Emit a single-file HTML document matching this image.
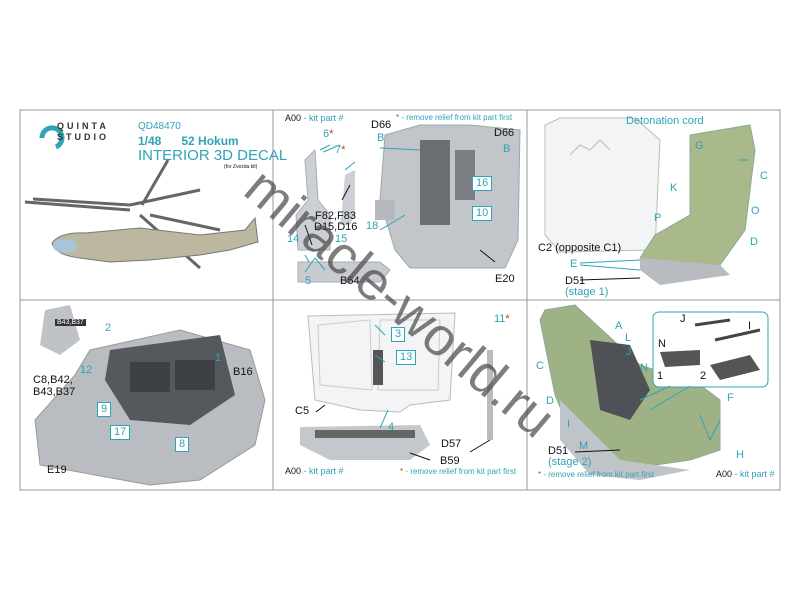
<!DOCTYPE html>
<html><head><meta charset="utf-8"><style>
*{margin:0;padding:0}
body{width:800px;height:600px;background:#fff;position:relative;overflow:hidden;font-family:"Liberation Sans",sans-serif}
.t{position:absolute;font-size:11px;color:#111;white-space:nowrap}
.c{color:#2fa3b8}
.r{color:#c33}
.box{position:absolute;border:1px solid #2fa3b8;color:#2fa3b8;font-size:11px;padding:0 3px;background:#fff;line-height:13px}
</style></head><body>
<svg width="800" height="600" style="position:absolute;left:0;top:0">
<rect x="20" y="110" width="760" height="380" fill="none" stroke="#999" stroke-width="1"/>
<line x1="273" y1="110" x2="273" y2="490" stroke="#999"/>
<line x1="527" y1="110" x2="527" y2="490" stroke="#999"/>
<line x1="20" y1="300" x2="780" y2="300" stroke="#999"/>
<path d="M42 138 a10 10 0 1 1 14 9" fill="none" stroke="#2fa3b8" stroke-width="5"/>
<g stroke="#666" stroke-width="3" fill="none">
<line x1="25" y1="202" x2="130" y2="210"/><line x1="33" y1="199" x2="130" y2="205"/>
<line x1="130" y1="205" x2="200" y2="190"/><line x1="142" y1="205" x2="168" y2="160"/>
<line x1="150" y1="215" x2="220" y2="230"/><line x1="140" y1="215" x2="200" y2="268"/>
</g>
<path d="M52 243 Q60 232 85 233 L140 228 L200 235 L245 230 L255 218 L258 242 L230 250 L200 255 L150 260 L110 262 L80 258 Q55 255 52 243Z" fill="#bcb8a0" stroke="#777"/>
<ellipse cx="65" cy="246" rx="12" ry="7" fill="#a8c4d8"/>
<path d="M305 160 L315 150 L318 200 L330 215 L330 250 L298 250 L296 215 L308 200Z" fill="#ccd0d4" stroke="#aab"/>
<path d="M345 175 L355 170 L355 215 L350 225 L340 225 L342 210Z" fill="#ccd0d4"/>
<path d="M298 262 L380 262 L390 270 L380 282 L298 282Z" fill="#c8ccd0" stroke="#aab"/>
<path d="M385 135 L420 125 L470 125 L520 130 L518 240 L505 268 L410 268 L395 250 L380 200Z" fill="#c2c6ca" stroke="#9aa"/>
<rect x="420" y="140" width="30" height="85" fill="#6b6e72"/>
<rect x="455" y="150" width="20" height="50" fill="#7a7e82"/>
<rect x="375" y="200" width="20" height="20" fill="#b5b9bd"/>
<path d="M545 125 L560 118 L635 118 L660 140 L655 250 L560 252 L545 235Z" fill="#f3f4f5" stroke="#bbb"/>
<path d="M570 155 L580 145 L590 150 L600 140 L610 150" fill="none" stroke="#bbb"/>
<path d="M690 135 L750 125 L755 150 L745 230 L720 265 L660 270 L640 258 L655 235 L690 215Z" fill="#a9b98a" stroke="#8a9"/>
<path d="M640 258 L720 265 L730 275 L660 285 L640 270Z" fill="#b8bcc0"/>
<path d="M45 310 L70 305 L80 340 L60 355 L40 345Z" fill="#bfc3c7"/>
<path d="M90 350 L180 330 L250 350 L265 400 L255 445 L200 480 L150 485 L40 465 L35 420 L75 375Z" fill="#b9bdc1" stroke="#999"/>
<path d="M110 350 L220 335 L235 395 L190 425 L130 420 L105 380Z" fill="#55595d"/>
<rect x="130" y="362" width="40" height="30" fill="#3d4145"/>
<rect x="175" y="360" width="40" height="30" fill="#3d4145"/>
<path d="M308 316 L455 313 L450 400 L410 405 L400 412 L360 410 L315 400 Z" fill="#f3f4f5" stroke="#bbb"/>
<path d="M318 325 L370 320 L372 390 L320 385Z M380 320 L440 320 L438 390 L378 390Z" fill="none" stroke="#ccc"/>
<rect x="373" y="350" width="10" height="35" fill="#555"/>
<path d="M300 427 L420 425 L430 445 L410 460 L330 460 L300 445Z" fill="#c4c8cc"/>
<rect x="315" y="430" width="100" height="8" fill="#666"/>
<line x1="490" y1="350" x2="490" y2="440" stroke="#bbb" stroke-width="6"/>
<path d="M545 310 L575 305 L640 365 L700 385 L720 400 L720 450 L690 460 L620 470 L580 455 L555 395 L540 320Z" fill="#9fb285" stroke="#8a9"/>
<path d="M590 340 L630 345 L650 390 L630 420 L600 410Z" fill="#4e5257"/>
<path d="M560 400 L620 460 L690 470 L640 480 L590 475 L560 440Z" fill="#c0c4c8"/>
<rect x="653" y="312" width="115" height="75" rx="6" fill="#fff" stroke="#2fa3b8"/>
<path d="M660 352 L700 350 L700 365 L665 367Z" fill="#555"/>
<path d="M710 365 L750 355 L760 370 L720 380Z" fill="#555"/>
<path d="M695 325 L730 320 M715 340 L760 330" stroke="#444" stroke-width="3"/>
<g stroke="#2fa3b8" stroke-width="1" fill="none">
<line x1="323" y1="152" x2="340" y2="145"/><line x1="345" y1="170" x2="355" y2="162"/>
<line x1="380" y1="148" x2="420" y2="150"/><line x1="380" y1="230" x2="405" y2="215"/>
<line x1="375" y1="325" x2="385" y2="335"/><line x1="375" y1="355" x2="385" y2="362"/>
<line x1="380" y1="428" x2="388" y2="410"/><line x1="320" y1="150" x2="330" y2="145"/>
<line x1="309" y1="262" x2="305" y2="255"/><line x1="315" y1="258" x2="305" y2="272"/><line x1="315" y1="258" x2="325" y2="270"/>
<line x1="738" y1="160" x2="748" y2="160"/>
<line x1="580" y1="263" x2="640" y2="260"/><line x1="580" y1="265" x2="640" y2="270"/>
<line x1="670" y1="386" x2="640" y2="400"/><line x1="690" y1="386" x2="650" y2="410"/>
<line x1="710" y1="440" x2="700" y2="415"/><line x1="710" y1="440" x2="720" y2="420"/>
</g>
<g stroke="#111" stroke-width="1">
<line x1="342" y1="200" x2="350" y2="185"/><line x1="312" y1="245" x2="305" y2="225"/>
<line x1="495" y1="262" x2="480" y2="250"/><line x1="580" y1="280" x2="640" y2="278"/>
<line x1="316" y1="412" x2="325" y2="405"/><line x1="470" y1="452" x2="490" y2="440"/>
<line x1="430" y1="460" x2="410" y2="453"/><line x1="575" y1="452" x2="620" y2="450"/>
</g>
</svg>

<div class="t" style="left:57px;top:121px;font-size:9px;letter-spacing:3px;font-weight:bold;color:#333;line-height:11px">QUINTA<br>STUDIO</div>
<div class="t c" style="left:138px;top:121px;font-size:10px">QD48470</div>
<div class="t c" style="left:138px;top:134px;font-size:12px;font-weight:bold">1/48&nbsp;&nbsp;&nbsp;&nbsp;&nbsp;&nbsp;52 Hokum</div>
<div class="t c" style="left:138px;top:147px;font-size:15px">INTERIOR 3D DECAL</div>
<div class="t" style="left:224px;top:164px;font-size:5px">(for Zvezda kit)</div>

<div class="t" style="left:285px;top:113px;font-size:9px">A00 <span class="c">- kit part #</span></div>
<div class="t" style="left:396px;top:113px;font-size:8px"><span class="r">*</span> <span class="c">- remove relief from kit part first</span></div>
<div class="t c" style="left:323px;top:128px">6<span class="r">*</span></div>
<div class="t c" style="left:335px;top:144px">7<span class="r">*</span></div>
<div class="t" style="left:371px;top:119px">D66</div>
<div class="t" style="left:494px;top:127px">D66</div>
<div class="t c" style="left:377px;top:132px">B</div>
<div class="t c" style="left:503px;top:143px">B</div>
<div class="t" style="left:315px;top:210px">F82,F83</div>
<div class="t" style="left:314px;top:221px">D15,D16</div>
<div class="t c" style="left:366px;top:220px">18</div>
<div class="box" style="left:472px;top:176px">16</div>
<div class="box" style="left:472px;top:206px">10</div>
<div class="t c" style="left:287px;top:233px">14</div>
<div class="t c" style="left:335px;top:233px">15</div>
<div class="t c" style="left:305px;top:275px">5</div>
<div class="t" style="left:340px;top:275px">B54</div>
<div class="t" style="left:495px;top:273px">E20</div>

<div class="t c" style="left:626px;top:115px">Detonation cord</div>
<div class="t c" style="left:695px;top:140px">G</div>
<div class="t c" style="left:760px;top:170px">C</div>
<div class="t c" style="left:670px;top:182px">K</div>
<div class="t c" style="left:751px;top:205px">O</div>
<div class="t c" style="left:654px;top:212px">P</div>
<div class="t c" style="left:750px;top:236px">D</div>
<div class="t" style="left:538px;top:242px">C2 (opposite C1)</div>
<div class="t c" style="left:570px;top:258px">E</div>
<div class="t" style="left:565px;top:275px">D51</div>
<div class="t c" style="left:565px;top:286px">(stage 1)</div>

<div class="t" style="left:55px;top:319px;font-size:7px;background:#333;color:#fff">&nbsp;B43,B37&nbsp;</div>
<div class="t c" style="left:105px;top:322px">2</div>
<div class="t c" style="left:215px;top:352px">1</div>
<div class="t c" style="left:80px;top:364px">12</div>
<div class="t" style="left:233px;top:366px">B16</div>
<div class="t" style="left:33px;top:374px">C8,B42,<br>B43,B37</div>
<div class="box" style="left:97px;top:402px">9</div>
<div class="box" style="left:110px;top:425px">17</div>
<div class="box" style="left:175px;top:437px">8</div>
<div class="t" style="left:47px;top:464px">E19</div>

<div class="box" style="left:391px;top:327px">3</div>
<div class="box" style="left:396px;top:350px">13</div>
<div class="t c" style="left:494px;top:313px">11<span class="r">*</span></div>
<div class="t" style="left:295px;top:405px">C5</div>
<div class="t c" style="left:388px;top:421px">4</div>
<div class="t" style="left:441px;top:438px">D57</div>
<div class="t" style="left:440px;top:455px">B59</div>
<div class="t" style="left:285px;top:466px;font-size:9px">A00 <span class="c">- kit part #</span></div>
<div class="t" style="left:400px;top:467px;font-size:8px"><span class="r">*</span> <span class="c">- remove relief from kit part first</span></div>

<div class="t c" style="left:615px;top:320px">A</div>
<div class="t c" style="left:625px;top:332px">L</div>
<div class="t c" style="left:626px;top:346px">J</div>
<div class="t c" style="left:536px;top:360px">C</div>
<div class="t c" style="left:640px;top:362px">N</div>
<div class="t" style="left:680px;top:313px">J</div>
<div class="t" style="left:748px;top:320px">I</div>
<div class="t" style="left:658px;top:338px">N</div>
<div class="t" style="left:657px;top:370px">1</div>
<div class="t" style="left:700px;top:370px">2</div>
<div class="t c" style="left:727px;top:392px">F</div>
<div class="t c" style="left:546px;top:395px">D</div>
<div class="t c" style="left:567px;top:418px">I</div>
<div class="t c" style="left:579px;top:440px">M</div>
<div class="t c" style="left:736px;top:449px">H</div>
<div class="t" style="left:548px;top:445px">D51</div>
<div class="t c" style="left:548px;top:456px">(stage 2)</div>
<div class="t" style="left:538px;top:470px;font-size:8px"><span class="r">*</span> <span class="c">- remove relief from kit part first</span></div>
<div class="t" style="left:716px;top:469px;font-size:9px">A00 <span class="c">- kit part #</span></div>

<div style="position:absolute;left:180px;top:275px;font-size:54px;color:rgba(70,70,70,0.7);transform:rotate(40deg);transform-origin:center;white-space:nowrap;font-family:'Liberation Sans',sans-serif;width:440px;text-align:center;line-height:56px">miracle-world.ru</div>
</body></html>
